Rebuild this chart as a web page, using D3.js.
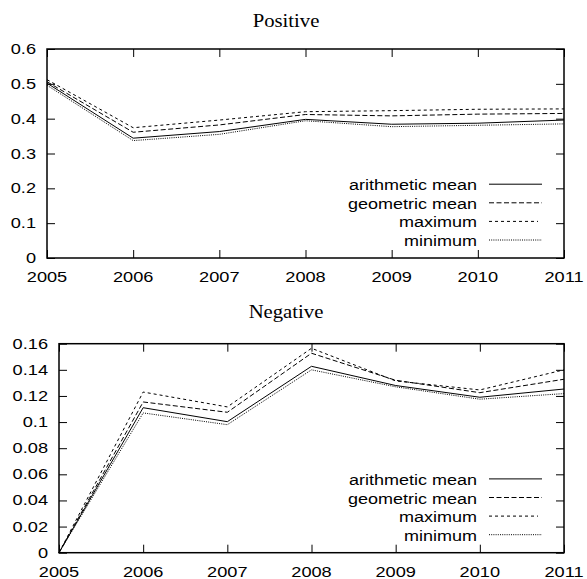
<!DOCTYPE html>
<html>
<head>
<meta charset="utf-8">
<script src="https://cdn.jsdelivr.net/npm/d3@7"></script>
<style>
	body { margin: 0; background: #fff; }
	.tick-label { font-family: "Liberation Sans", Arial, sans-serif; font-size: 14px; fill: #000; }
	.legend-label { font-family: "Liberation Sans", Arial, sans-serif; font-size: 15px; fill: #000; }
	.title { font-family: "Liberation Serif", "Times New Roman", serif; font-size: 18.5px; fill: #000; }
</style>
</head>
<body>
<div id="chart"></div>
<script>
var years = [2005, 2006, 2007, 2008, 2009, 2010, 2011];

var seriesNames = ["arithmetic mean", "geometric mean", "maximum", "minimum"];

var posArith = [0.502, 0.344, 0.363, 0.398, 0.384, 0.387, 0.396];
var posGeo = [0.506, 0.361, 0.382, 0.412, 0.408, 0.413, 0.415];
var posMax = [0.512, 0.374, 0.396, 0.420, 0.423, 0.427, 0.428];
var posMin = [0.496, 0.337, 0.355, 0.394, 0.377, 0.381, 0.385];

var negArith = [0, 0.111, 0.1003, 0.1427, 0.128, 0.119, 0.1253];
var negGeo = [0, 0.1154, 0.1075, 0.1527, 0.132, 0.1225, 0.1328];
var negMax = [0, 0.123, 0.1116, 0.1565, 0.1315, 0.1246, 0.140];
var negMin = [0, 0.107, 0.098, 0.140, 0.127, 0.1175, 0.1218];

var posTicks = [0, 0.1, 0.2, 0.3, 0.4, 0.5, 0.6];
var negTicks = [0, 0.02, 0.04, 0.06, 0.08, 0.1, 0.12, 0.14, 0.16];

// gnuplot style line types
var dashes = [null, "5,2.5", "3,3", "1,1.2"];

var svg = d3.select("#chart").append("svg")
	.attr("width", 587)
	.attr("height", 579);

function drawPanel(opts) {
	var x = d3.scaleLinear().domain([2005, 2011]).range([opts.left, 564]);
	var y = d3.scaleLinear().domain([0, opts.yMax]).range([opts.bottom, opts.top]);
	var g = svg.append("g");

	g.append("text")
		.classed("title", true)
		.attr("text-anchor", "middle")
		.attr("transform", "translate(286," + opts.titleY + ") scale(1.12,1)")
		.text(opts.title);

	// inward ticks on all four sides, like gnuplot
	g.append("g")
		.attr("transform", "translate(0," + opts.bottom + ")")
		.call(d3.axisTop(x).tickValues(years).tickSize(8).tickFormat(""))
		.call(function(a) { a.select(".domain").remove(); });
	g.append("g")
		.attr("transform", "translate(0," + opts.top + ")")
		.call(d3.axisBottom(x).tickValues(years).tickSize(8).tickFormat(""))
		.call(function(a) { a.select(".domain").remove(); });
	g.append("g")
		.attr("transform", "translate(" + opts.left + ",0)")
		.call(d3.axisRight(y).tickValues(opts.ticks).tickSize(8).tickFormat(""))
		.call(function(a) { a.select(".domain").remove(); });
	g.append("g")
		.attr("transform", "translate(564,0)")
		.call(d3.axisLeft(y).tickValues(opts.ticks).tickSize(8).tickFormat(""))
		.call(function(a) { a.select(".domain").remove(); });
	g.selectAll(".tick line").attr("stroke", "#000").attr("stroke-width", 1);

	g.selectAll("text.ylab")
		.data(opts.ticks)
		.enter()
		.append("text")
		.classed("tick-label", true)
		.attr("text-anchor", "end")
		.attr("transform", function(d) { return "translate(" + (opts.left - 11) + "," + (y(d) + 5) + ") scale(1.3,1)"; })
		.text(function(d) { return d3.format("~g")(d); });

	g.selectAll("text.xlab")
		.data(years)
		.enter()
		.append("text")
		.classed("tick-label", true)
		.attr("text-anchor", "middle")
		.attr("transform", function(d) { return "translate(" + x(d) + "," + (opts.bottom + 24) + ") scale(1.3,1)"; })
		.text(function(d) { return d; });

	var line = d3.line()
		.x(function(d, i) { return x(years[i]); })
		.y(function(d) { return y(d); });

	g.selectAll("path.series")
		.data(opts.series)
		.enter()
		.append("path")
		.attr("d", line)
		.attr("fill", "none")
		.attr("stroke", "#000")
		.attr("stroke-width", 1)
		.attr("stroke-dasharray", function(d, i) { return dashes[i]; });

	// legend
	var legendY = opts.bottom - 18 - 18.6 * 3;
	for (var i = 0; i < seriesNames.length; i++) {
		var ly = legendY + i * 18.6;
		g.append("text")
			.classed("legend-label", true)
			.attr("text-anchor", "end")
			.attr("transform", "translate(477," + (ly + 6) + ") scale(1.2,1)")
			.text(seriesNames[i]);
		g.append("line")
			.attr("x1", 489)
			.attr("x2", i == 2 ? 538 : 542)
			.attr("y1", ly)
			.attr("y2", ly)
			.attr("stroke", "#000")
			.attr("stroke-width", 1)
			.attr("stroke-dasharray", dashes[i]);
	}

	g.append("rect")
		.attr("x", opts.left)
		.attr("y", opts.top)
		.attr("width", 564 - opts.left)
		.attr("height", opts.bottom - opts.top)
		.attr("fill", "none")
		.attr("stroke", "#000")
		.attr("stroke-width", 1.5);
}

drawPanel({
	title: "Positive", titleY: 27,
	left: 47, top: 49, bottom: 258, yMax: 0.6, ticks: posTicks,
	series: [posArith, posGeo, posMax, posMin]
});

drawPanel({
	title: "Negative", titleY: 318,
	left: 59, top: 343.7, bottom: 552.7, yMax: 0.16, ticks: negTicks,
	series: [negArith, negGeo, negMax, negMin]
});
</script>
</body>
</html>
